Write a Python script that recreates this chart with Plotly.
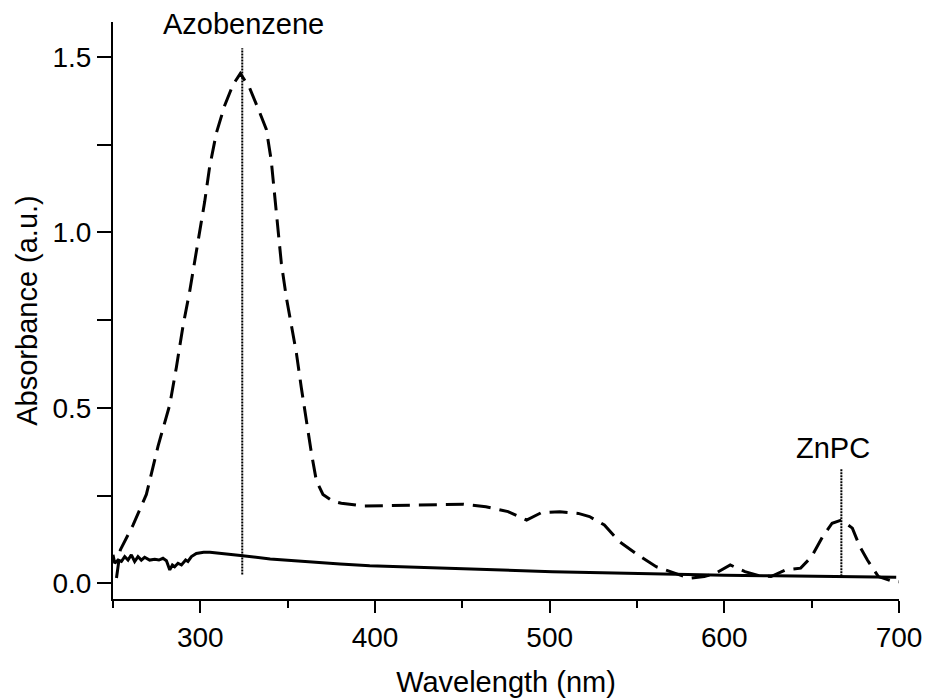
import plotly.graph_objects as go

# Dashed spectrum (compound)
dash_x = [252, 254.2, 261.4, 269.1, 275.8, 282.5, 286.3, 290.1, 293.9, 297.3, 299.6, 302.5, 305.3,
          309.2, 314, 318.7, 322.9, 328.2, 333.9, 337.8, 340.6, 342.5, 344.4, 346.4, 349.3, 352.1,
          355, 357.8, 360.7, 363.6, 366.4, 370.2, 375.9, 380.7, 393.5, 416.8, 438, 450.7, 463.5,
          476.2, 486.8, 495.2, 505.8, 516.4, 522.8, 531.3, 539.8, 550.4, 561, 571.6, 580, 588.5,
          594.9, 603.4, 611.8, 620.3, 626.7, 635.2, 643.7, 650, 656.3, 661.7, 667, 673.3, 677.6,
          681.9, 688.2, 696.7, 700.6]
dash_y = [0.015, 0.095, 0.165, 0.253, 0.391, 0.509, 0.616, 0.734, 0.832, 0.931, 1.009, 1.088, 1.186,
          1.284, 1.363, 1.421, 1.453, 1.412, 1.343, 1.294, 1.205, 1.107, 1.009, 0.911, 0.813, 0.734,
          0.656, 0.558, 0.459, 0.371, 0.293, 0.253, 0.234, 0.228, 0.220, 0.222, 0.225, 0.225, 0.218,
          0.204, 0.180, 0.201, 0.204, 0.199, 0.190, 0.166, 0.119, 0.081, 0.047, 0.028, 0.014, 0.019,
          0.028, 0.052, 0.033, 0.021, 0.019, 0.038, 0.043, 0.076, 0.133, 0.171, 0.180, 0.157, 0.104,
          0.066, 0.019, 0.005, 0.004]

# Solid spectrum (reference)
solid_x = [250, 251, 252.9, 254.8, 256.7, 258.6, 260.5, 262.4, 264.3, 266.2, 268.1, 271, 273.9,
           276.3, 278.6, 280.6, 282.5, 284, 285.3, 287.2, 289.2, 291.6, 292.9, 294.9, 297.7, 301.9,
           305.5, 310.3, 323, 340, 362.6, 380, 397, 420, 438, 470, 501.5, 530, 565, 600, 628.6,
           667, 698.4]
solid_y = [0.081, 0.057, 0.066, 0.062, 0.076, 0.066, 0.081, 0.062, 0.076, 0.066, 0.074, 0.066, 0.068,
           0.066, 0.071, 0.064, 0.038, 0.052, 0.047, 0.057, 0.052, 0.066, 0.062, 0.076, 0.085, 0.088,
           0.088, 0.085, 0.079, 0.069, 0.060, 0.055, 0.050, 0.046, 0.043, 0.038, 0.033, 0.030, 0.026,
           0.023, 0.021, 0.019, 0.017]

# Marker lines and labels
marker_labels = ["Azobenzene", "ZnPC"]
marker_x = [324, 667]
marker_y_bottom = [0.025, 0.02]
marker_y_top = [1.525, 0.328]
label_x = [324.5, 662]
label_y = [1.595, 0.385]

x_ticks = [300, 400, 500, 600, 700]
y_ticks = [0.0, 0.5, 1.0, 1.5]

FONT = "Arial, 'Liberation Sans', sans-serif"

fig = go.Figure()

fig.add_trace(go.Scatter(x=dash_x, y=dash_y, mode="lines",
                         line=dict(color="black", width=3, dash="18px,9px"),
                         showlegend=False))
fig.add_trace(go.Scatter(x=solid_x, y=solid_y, mode="lines",
                         line=dict(color="black", width=3),
                         showlegend=False))

for mx, yb, yt in zip(marker_x, marker_y_bottom, marker_y_top):
    fig.add_trace(go.Scatter(x=[mx, mx], y=[yb, yt], mode="lines",
                             line=dict(color="black", width=2, dash="2px,1px"),
                             showlegend=False))

for lab, lx, ly in zip(marker_labels, label_x, label_y):
    fig.add_annotation(x=lx, y=ly, text=lab, showarrow=False,
                       font=dict(family=FONT, size=29, color="black"),
                       xanchor="center", yanchor="middle")

fig.update_layout(
    width=926, height=700,
    margin=dict(l=113, r=27, t=22, b=101),
    plot_bgcolor="white", paper_bgcolor="white",
    font=dict(family=FONT, size=27, color="black"),
    xaxis=dict(range=[250, 700], tickvals=x_ticks, ticktext=[str(v) for v in x_ticks],
               automargin=False, ticklabeloverflow="allow",
               showline=True, linecolor="black", linewidth=2, mirror=False,
               ticks="outside", ticklen=12, tickwidth=2, tickcolor="black",
               minor=dict(dtick=50, tick0=250, ticks="outside", ticklen=7, tickwidth=2,
                          tickcolor="black", showgrid=False),
               showgrid=False, zeroline=False,
               tickfont=dict(family=FONT, size=28),
               title=dict(text="Wavelength (nm)", font=dict(family=FONT, size=29), standoff=20)),
    yaxis=dict(range=[-0.045, 1.6], tickvals=y_ticks, ticktext=[f"{v:.1f}" for v in y_ticks],
               automargin=False,
               showline=True, linecolor="black", linewidth=2, mirror=False,
               ticks="outside", ticklen=14, tickwidth=2, tickcolor="black",
               minor=dict(dtick=0.25, tick0=0, ticks="outside", ticklen=14, tickwidth=2,
                          tickcolor="black", showgrid=False),
               showgrid=False, zeroline=False,
               tickfont=dict(family=FONT, size=28),
               title=dict(text="Absorbance (a.u.)", font=dict(family=FONT, size=29), standoff=6)),
)

fig.write_html("out.html")
